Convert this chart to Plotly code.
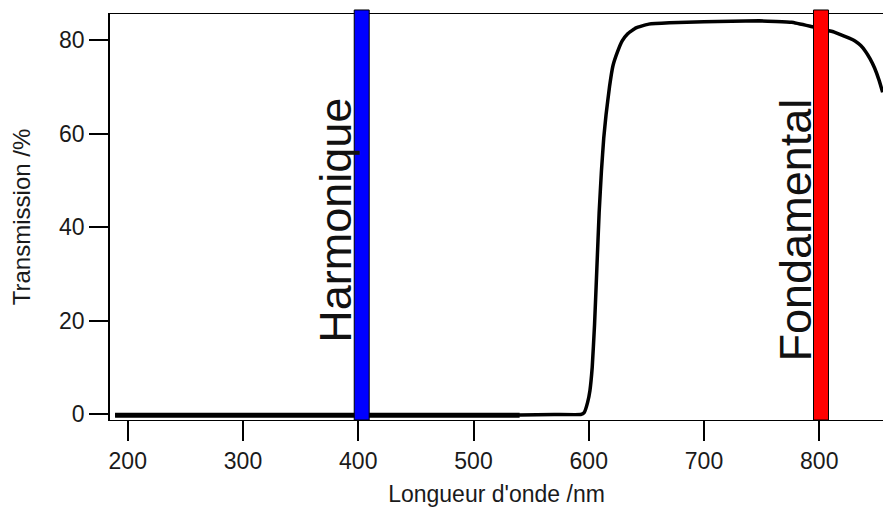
import plotly.graph_objects as go

# Transmission curve
wavelength = [189, 250, 300, 350, 400, 450, 500, 540, 570, 593, 596, 599, 601, 603, 605, 607,
              609, 611, 613, 615, 618, 621, 625, 629, 634, 641, 652, 670, 700, 748, 776,
              793, 805, 813, 820, 826, 831, 836, 840, 844, 848, 852, 855]
transmission = [-0.2, -0.2, -0.2, -0.2, -0.2, -0.2, -0.2, -0.2, -0.1, -0.1, 0.3, 2.5, 5, 10, 19, 31,
                43, 52, 59, 64, 70, 74.5, 77.5, 79.8, 81.4, 82.6, 83.4, 83.7, 83.9, 84.1, 83.8,
                82.9, 82.2, 81.7, 81.0, 80.4, 79.8, 78.8, 77.6, 76.0, 74.0, 71.3, 68.8]

# noisy (thicker) low segment
noisy_wl = [189, 540]
noisy_tr = [-0.25, -0.25]

# Laser lines
line_names = ["Harmonique", "Fondamental"]
line_lo = [396.5, 795.0]
line_hi = [409.5, 808.0]
line_colors = ["#0000ff", "#ff0000"]
label_x = [380.5, 779.5]
label_y = [41.5, 39.4]

x_ticks = [200, 300, 400, 500, 600, 700, 800]
y_ticks = [0, 20, 40, 60, 80]

FONT = "Liberation Sans, Arial, sans-serif"

fig = go.Figure()
fig.add_trace(go.Scatter(x=noisy_wl, y=noisy_tr, mode="lines",
                         line=dict(color="black", width=5), showlegend=False, hoverinfo="skip"))
fig.add_trace(go.Scatter(x=wavelength, y=transmission, mode="lines",
                         line=dict(color="black", width=3.5, shape="spline", smoothing=0.3),
                         showlegend=False))

for lo, hi, c in zip(line_lo, line_hi, line_colors):
    fig.add_shape(type="rect", xref="x", yref="paper", x0=lo, x1=hi, y0=0, y1=1.0099,
                  fillcolor=c, line=dict(color="black", width=1), layer="above")

for name, xv, yv in zip(line_names, label_x, label_y):
    fig.add_annotation(x=xv, y=yv, xref="x", yref="y", text=name, textangle=-90,
                       showarrow=False, font=dict(family=FONT, size=45, color="#111"),
                       xanchor="center", yanchor="middle")

fig.update_layout(
    width=883, height=509,
    margin=dict(l=110, r=0, t=14, b=89),
    paper_bgcolor="white", plot_bgcolor="white",
    font=dict(family=FONT, size=23, color="#1a1a1a"),
    xaxis=dict(range=[184.6, 855.3], tickvals=x_ticks, ticks="outside", ticklen=20,
               tickwidth=1.5, tickcolor="black", showline=True, linecolor="black", linewidth=1.2,
               mirror=True, showgrid=False, zeroline=False,
               title=dict(text="Longueur d'onde /nm", standoff=13,
                          font=dict(family=FONT, size=23))),
    yaxis=dict(range=[-1.28, 85.56], tickvals=y_ticks, ticks="outside", ticklen=19,
               tickwidth=1.5, tickcolor="black", showline=True, linecolor="black", linewidth=1.5,
               showgrid=False, zeroline=False,
               title=dict(text="Transmission /%", standoff=22,
                          font=dict(family=FONT, size=24))),
)

fig.write_html("out.html")
